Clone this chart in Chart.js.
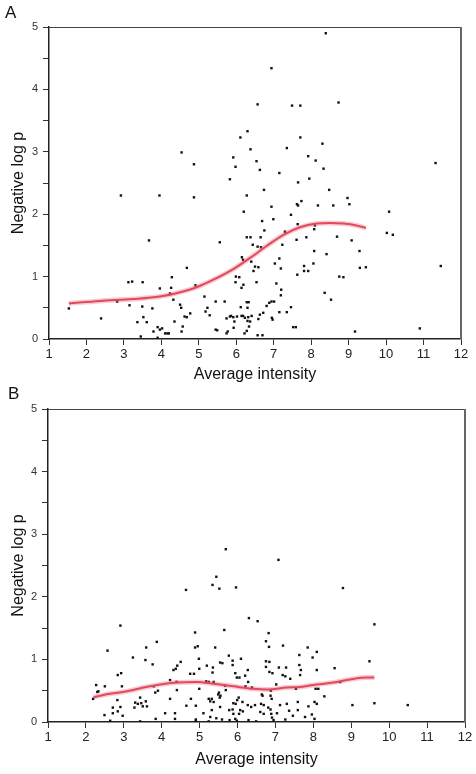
<!DOCTYPE html>
<html><head><meta charset="utf-8">
<script src="https://cdn.jsdelivr.net/npm/chart.js@4/dist/chart.umd.min.js"></script>
<style>
html,body{margin:0;padding:0;background:#fff;}
#wrap{position:relative;width:476px;height:774px;overflow:hidden;background:#fff;}
canvas{position:absolute;left:0;}
.lab{position:absolute;font:17px "Liberation Sans",Arial,sans-serif;line-height:17px;color:#111;}
</style></head><body>
<div id="wrap">
<canvas id="cA" width="476" height="387" style="top:0"></canvas>
<canvas id="cB" width="476" height="387" style="top:387px"></canvas>
<div class="lab" style="left:5px;top:4px">A</div>
<div class="lab" style="left:8px;top:385px">B</div>
</div>
<script>
// ---- data ----
const xTitle = 'Average intensity';
const yTitle = 'Negative log p';
const xMin = 1, xMax = 12, yMin = 0, yMax = 5;

// Panel A scatter: [average intensity, negative log p]
const pointsA = [
[8.39,4.90],[6.94,4.34],[6.57,3.76],[7.49,3.74],[7.71,3.74],[8.73,3.79],[6.30,3.33],[6.11,3.23],[7.71,3.23],[8.30,3.13],
[4.54,2.99],[6.38,3.04],[7.35,3.06],[5.92,2.91],[7.92,2.93],[8.12,2.86],[6.54,2.85],[4.87,2.80],[5.98,2.76],[11.32,2.82],
[6.63,2.71],[8.33,2.73],[7.15,2.66],[5.83,2.56],[7.95,2.57],[7.65,2.51],[6.74,2.39],[8.48,2.39],[2.92,2.30],[3.95,2.30],
[6.28,2.30],[4.87,2.27],[8.97,2.26],
[6.20,2.04],[10.08,2.04],[6.94,2.12],[7.62,2.16],[7.65,2.14],[7.74,2.21],[8.18,2.14],[8.59,2.14],[9.02,2.16],[7.46,1.99],
[6.99,1.92],[6.69,1.89],[6.75,1.74],[7.30,1.72],[7.64,1.84],[8.10,1.82],[8.08,1.76],[3.67,1.58],[5.56,1.55],[6.28,1.63],
[6.38,1.63],[6.65,1.63],[6.44,1.51],[6.57,1.48],[6.66,1.47],[7.23,1.51],[7.61,1.59],[7.87,1.63],[8.69,1.64],[9.08,1.58],
[10.02,1.70],[10.18,1.67],[8.08,1.41],[8.41,1.36],[9.29,1.41],[6.15,1.31],[6.18,1.27],[6.40,1.24],[7.15,1.29],[7.03,1.21],
[8.06,1.21],[4.68,1.14],[6.50,1.16],[6.59,1.15],[6.46,1.09],[7.19,1.13],[7.81,1.17],[7.81,1.09],[7.92,1.09],[9.30,1.14],
[9.46,1.15],[11.46,1.17],[7.63,1.03],[4.28,0.99],[5.99,1.00],[6.08,0.99],[8.75,1.00],[8.86,0.99],[3.12,0.91],[3.22,0.92],
[3.50,0.91],[5.98,0.91],[6.54,0.91],[6.19,0.87],[4.91,0.86],[7.07,0.89],[3.96,0.81],[4.26,0.82],[6.14,0.82],[7.20,0.79],
[8.36,0.74],[4.23,0.73],[7.19,0.70],[5.15,0.68],[7.01,0.60],[4.32,0.63],[5.45,0.60],[5.69,0.60],[8.53,0.63],[2.82,0.60],
[3.15,0.54],[4.50,0.55],[6.12,0.51],[6.28,0.59],[6.33,0.59],[6.88,0.58],[6.81,0.53],[6.94,0.60],[3.49,0.52],[3.76,0.49],
[4.53,0.50],[5.23,0.50],[6.30,0.50],[7.46,0.51],[1.53,0.49],[5.18,0.44],[7.35,0.43],[7.15,0.43],[4.77,0.41],[6.63,0.39],
[6.72,0.42],[5.29,0.38],[4.62,0.36],[4.68,0.35],[6.41,0.37],[6.14,0.37],[6.18,0.37],[5.86,0.37],[4.35,0.28],[3.52,0.35],
[5.74,0.33],[5.83,0.36],[5.92,0.35],[6.02,0.36],[6.23,0.34],[6.32,0.35],[6.37,0.28],[6.59,0.32],[6.95,0.34],[6.97,0.31],
[2.39,0.33],[3.36,0.27],[3.61,0.27],[5.95,0.28],[6.30,0.29],[4.57,0.20],[4.02,0.17],[3.90,0.19],[3.96,0.15],[6.34,0.20],
[7.52,0.19],[7.59,0.19],[5.93,0.18],[10.90,0.17],[6.28,0.13],[5.45,0.15],[5.49,0.14],[5.77,0.12],[5.74,0.09],[3.79,0.12],
[4.54,0.12],[9.17,0.12],[4.10,0.09],[4.16,0.09],[4.20,0.09],[6.22,0.09],[3.45,0.04],[3.90,0.02],[6.57,0.06],[6.70,0.06]
];
// Panel A smoothed fit
const curveA = [[1.53,0.57],[2.36,0.61],[3.25,0.64],[3.96,0.68],[4.50,0.75],[4.94,0.83],[5.39,0.95],[5.92,1.12],[6.37,1.30],
[6.81,1.49],[7.26,1.67],[7.70,1.79],[8.15,1.85],[8.50,1.86],[8.86,1.85],[9.21,1.82],[9.46,1.78]];

// Panel B scatter
const pointsB = [
[5.69,2.76],[7.08,2.59],[5.44,2.32],[5.34,2.19],[5.52,2.13],[4.64,2.11],[5.96,2.15],[8.78,2.14],[6.30,1.66],[6.53,1.61],
[2.91,1.54],[9.61,1.56],[5.65,1.47],[4.88,1.43],[6.82,1.42],[6.75,1.29],[6.83,1.20],[7.20,1.22],[3.87,1.28],[3.59,1.19],
[4.88,1.19],[4.95,1.21],[5.41,1.19],[7.85,1.19],[8.09,1.12],[2.57,1.14],[7.63,1.07],[5.77,1.06],[7.98,1.03],[3.24,1.03],
[4.98,1.01],[6.09,1.01],[3.57,0.99],[5.87,0.98],[6.75,0.97],[6.84,0.96],[9.48,0.97],[5.54,0.95],[5.60,0.94],[4.50,0.96],
[3.76,0.92],[4.41,0.90],[5.19,0.90],[5.87,0.91],[7.63,0.91],[5.35,0.87],[6.75,0.88],[7.09,0.87],[7.28,0.87],[8.56,0.86],
[4.99,0.85],[4.31,0.83],[4.37,0.85],[6.27,0.83],[7.67,0.83],[8.09,0.83],[6.84,0.80],[6.92,0.78],[5.94,0.78],[5.34,0.79],
[4.75,0.77],[4.85,0.77],[2.84,0.75],[2.93,0.78],[7.65,0.75],[6.20,0.74],[7.19,0.75],[7.26,0.73],[5.98,0.71],[6.05,0.71],
[7.39,0.69],[4.22,0.67],[5.17,0.65],[5.24,0.64],[5.37,0.64],[4.39,0.64],[6.28,0.64],[8.71,0.64],[2.27,0.59],[2.50,0.57],
[2.95,0.57],[3.79,0.57],[7.02,0.60],[5.67,0.58],[4.99,0.53],[8.06,0.53],[8.13,0.53],[7.54,0.53],[6.21,0.57],[6.38,0.55],
[2.30,0.48],[2.33,0.49],[3.90,0.50],[3.83,0.47],[4.40,0.51],[5.51,0.47],[5.55,0.42],[5.49,0.44],[5.53,0.39],[5.69,0.51],
[2.19,0.37],[2.83,0.35],[6.87,0.42],[6.88,0.50],[6.64,0.44],[6.66,0.42],[8.29,0.41],[4.77,0.37],[4.22,0.37],[5.24,0.37],
[5.32,0.37],[6.03,0.39],[5.99,0.35],[6.90,0.37],[3.37,0.29],[3.46,0.30],[3.58,0.33],[3.43,0.39],[3.30,0.31],[5.28,0.33],
[5.37,0.32],[5.89,0.30],[5.95,0.29],[6.13,0.32],[9.03,0.27],[9.61,0.30],[10.49,0.27],[8.03,0.32],[7.59,0.32],[7.87,0.25],
[8.09,0.29],[7.30,0.29],[7.12,0.27],[6.46,0.27],[6.69,0.27],[6.62,0.29],[6.27,0.27],[6.36,0.24],[4.65,0.26],[4.90,0.26],
[3.28,0.23],[3.50,0.25],[3.61,0.25],[2.71,0.23],[2.91,0.24],[5.54,0.24],[6.07,0.19],[6.14,0.17],[6.81,0.23],[6.87,0.20],
[7.59,0.19],[7.36,0.18],[5.87,0.20],[5.78,0.19],[5.32,0.19],[2.84,0.17],[2.71,0.14],[4.09,0.14],[4.35,0.14],[5.10,0.14],
[5.89,0.13],[6.04,0.13],[6.60,0.16],[6.69,0.13],[7.04,0.14],[6.89,0.13],[7.96,0.12],[7.46,0.10],[2.49,0.11],[2.97,0.10],
[3.84,0.05],[4.35,0.05],[4.90,0.04],[4.90,0.02],[5.28,0.08],[5.44,0.06],[5.59,0.04],[5.79,0.03],[5.94,0.05],[5.98,0.02],
[6.29,0.03],[6.91,0.07],[6.95,0.03],[7.26,0.04],[7.78,0.08],[8.03,0.05],[2.64,0.02],[3.43,0.01],[5.24,0.01],[6.49,0.01]
];
// Panel B smoothed fit
const curveB = [[2.20,0.40],[2.64,0.45],[3.08,0.49],[3.52,0.55],[3.96,0.60],[4.40,0.63],[4.93,0.64],[5.37,0.61],[5.89,0.57],
[6.42,0.53],[6.77,0.52],[7.30,0.55],[7.65,0.56],[8.09,0.60],[8.53,0.63],[8.97,0.68],[9.41,0.71],[9.61,0.71]];

// ---- drawing ----
const FAM = '"Liberation Sans", Arial, Helvetica, sans-serif';
Chart.defaults.font.family = FAM;

const framePlugin = {
  id: 'frame',
  afterDraw(chart) {
    const {ctx, chartArea: a} = chart;
    ctx.save();
    ctx.strokeStyle = '#444';
    ctx.lineWidth = 1;
    ctx.beginPath();
    ctx.moveTo(a.left, a.top + 0.5);
    ctx.lineTo(a.right, a.top + 0.5);
    ctx.stroke();
    ctx.strokeStyle = '#666';
    ctx.lineWidth = 2;
    ctx.beginPath();
    ctx.moveTo(a.right, a.top);
    ctx.lineTo(a.right, a.bottom);
    ctx.stroke();
    ctx.restore();
  }
};

function toXY(arr) { return arr.map(p => ({x: p[0], y: p[1]})); }

function makeChart(id, pts, curve, g) {
  return new Chart(document.getElementById(id), {
    type: 'scatter',
    data: {
      datasets: [
        {data: toXY(pts), pointStyle: 'rect', pointRadius: 1.7, backgroundColor: '#111', borderWidth: 0, order: 3},
        {data: toXY(curve), showLine: true, borderColor: 'rgba(235,110,125,0.35)', borderWidth: 5, pointRadius: 0,
         cubicInterpolationMode: 'monotone', order: 2},
        {data: toXY(curve), showLine: true, borderColor: '#e04a5c', borderWidth: 2, pointRadius: 0,
         cubicInterpolationMode: 'monotone', order: 1}
      ]
    },
    options: {
      responsive: false, animation: false, events: [],
      layout: {padding: {top: g.top, right: g.right, left: 0, bottom: 0}},
      plugins: {legend: {display: false}, tooltip: {enabled: false}},
      scales: {
        x: {
          type: 'linear', min: xMin, max: xMax,
          ticks: {stepSize: 1, autoSkip: false, maxRotation: 0, color: '#222', font: {size: 13, family: FAM}, padding: 2},
          grid: {display: true, drawOnChartArea: false, drawTicks: true, tickLength: 6, color: '#333', lineWidth: 1},
          border: {display: true, color: '#222', width: 1.5},
          title: {display: true, text: xTitle, color: '#111', font: {size: 16, family: FAM}, padding: {top: 0, bottom: g.xtPad}},
          afterFit(s) { s.height = g.xh; }
        },
        y: {
          type: 'linear', min: yMin, max: yMax,
          ticks: {stepSize: 0.5, autoSkip: false, color: '#333', font: {size: 11, family: FAM}, padding: 5,
                  callback: v => Number.isInteger(v) ? String(v) : ''},
          grid: {display: true, drawOnChartArea: false, drawTicks: true, tickLength: 6, color: '#333', lineWidth: 1},
          border: {display: true, color: '#222', width: 1.5},
          title: {display: true, text: yTitle, color: '#111', font: {size: 16, family: FAM}, padding: {top: 9, bottom: 0}},
          afterFit(s) { s.width = g.yw; }
        }
      }
    },
    plugins: [framePlugin]
  });
}

makeChart('cA', pointsA, curveA, {top: 27, right: 15, yw: 49, xh: 48, xtPad: 2.4});
makeChart('cB', pointsB, curveB, {top: 22, right: 11, yw: 48, xh: 52, xtPad: 4.4});
</script>
</body></html>
